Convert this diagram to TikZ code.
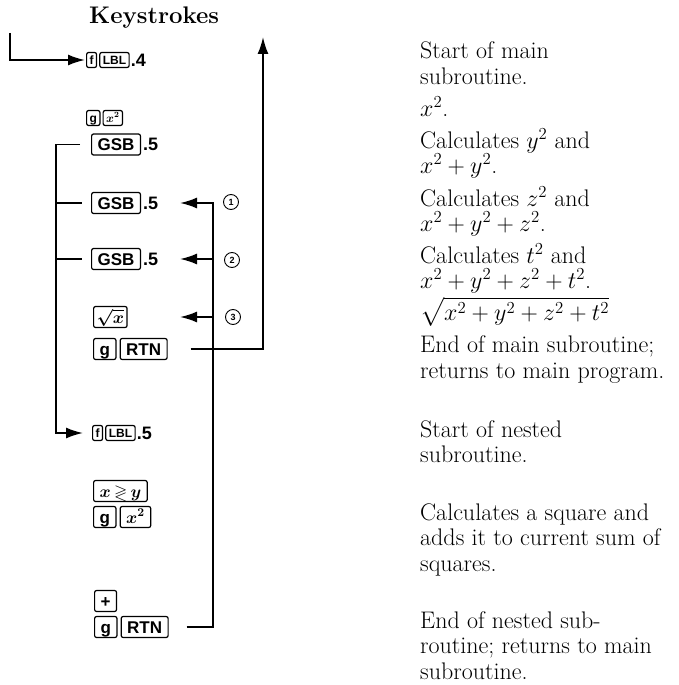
\RequirePackage{fix-cm}
\documentclass[tikz,border=0pt]{standalone}
\usepackage{amsmath,amssymb}
\usepackage{fontspec}
\newfontfamily\keyfont{Liberation Sans}
\usetikzlibrary{arrows.meta, positioning}

\tikzset{
  key/.style={draw, line width=1.2pt, rounded corners=2pt, inner xsep=6pt, inner ysep=0pt,
    minimum height=21pt, text height=12.2pt, text depth=0pt, font=\fontsize{17}{17}\keyfont\bfseries\boldmath, anchor=west},
  smallkey/.style={key, inner xsep=3pt, minimum height=15pt, text height=8.6pt, font=\fontsize{12}{12}\keyfont\bfseries\boldmath},
  keyarg/.style={inner sep=0pt, font=\fontsize{18}{18}\keyfont\bfseries, anchor=west},
  line/.style={line width=1.8pt},
  flow/.style={line, -{Latex[length=17pt,width=11pt]}},
  note/.style={anchor=base west, align=left, inner sep=0pt, font=\fontsize{24}{25.5}\selectfont},
  callno/.style={draw, circle, line width=0.9pt, inner sep=0pt, minimum size=15pt, font=\fontsize{9}{9}\keyfont\bfseries},
}

\begin{document}
\begin{tikzpicture}[x=1pt, y=-1pt]
\useasboundingbox (0,0) rectangle (679,685);

\node[anchor=base west, inner sep=0pt, font=\fontsize{24}{24}\selectfont\bfseries] (title) at (89,24) {Keystrokes};

% main subroutine
\node[smallkey] (fA) at (86,60) {f};
\node[smallkey, right=2pt of fA] (lblA) {LBL};
\node[keyarg, right=1pt of lblA] (numA) {.4};

\node[smallkey] (gB) at (86,118) {g};
\node[smallkey, right=2pt of gB] (sqB) {$x^2$};

\node[key] (gsbC) at (91,144.5) {GSB};
\node[keyarg, right=2pt of gsbC] (numC) {.5};
\node[key] (gsbD) at (91,203) {GSB};
\node[keyarg, right=2pt of gsbD] (numD) {.5};
\node[key] (gsbE) at (91,259) {GSB};
\node[keyarg, right=2pt of gsbE] (numE) {.5};

\node[key, inner xsep=3pt] (sqrtF) at (93,317) {$\sqrt{x}$};
\node[key] (gG) at (93,349) {g};
\node[key, right=3pt of gG] (rtnG) {RTN};

% nested subroutine
\node[smallkey] (fH) at (92,433) {f};
\node[smallkey, right=2pt of fH] (lblH) {LBL};
\node[keyarg, right=1pt of lblH] (numH) {.5};

\node[key] (swapI) at (93,491) {$x\,{\gtrless}\,y$};
\node[key] (gJ) at (93,517) {g};
\node[key, right=3pt of gJ] (sqJ) {$x^2$};

\node[key] (plusK) at (94,601) {+};
\node[key] (gL) at (94,627) {g};
\node[key, right=3pt of gL] (rtnL) {RTN};

% notes (anchored at the baseline of their last line)
\node[note] (n1) at (420,84.5) {Start of main\\subroutine.};
\node[note] (n2) at (420,116) {$x^2$.};
\node[note] (n3) at (420,173.5) {Calculates $y^2$ and\\$x^2+y^2$.};
\node[note] (n4) at (420,231.5) {Calculates $z^2$ and\\$x^2+y^2+z^2$.};
\node[note] (n5) at (420,288.5) {Calculates $t^2$ and\\$x^2+y^2+z^2+t^2$.};
\node[note] (n6) at (420,320) {$\sqrt{x^2+y^2+z^2+t^2}$};
\node[note] (n7) at (420,378) {End of main subroutine;\\returns to main program.};
\node[note] (n8) at (420,462.5) {Start of nested\\subroutine.};
\node[note] (n9) at (420,571) {Calculates a square and\\adds it to current sum of\\squares.};
\node[note] (n10) at (420,679) {End of nested sub-\\routine; returns to main\\subroutine.};

% entry and return of main subroutine
\coordinate (mainin) at (10,33);
\coordinate (mainout) at (263,37);
\draw[flow] (mainin) |- ([xshift=-1pt]fA.west);
\draw[flow] ([xshift=23pt]rtnG.east) -| (mainout);

% calls
\coordinate (callbar) at (56,0);
\draw[flow, shorten >=9pt] ([xshift=-11pt]gsbC.west) -- (gsbC.west -| callbar) |- (fH.west);
\draw[line] (gsbD.west -| callbar) -- ([xshift=-9pt]gsbD.west);
\draw[line] (gsbE.west -| callbar) -- ([xshift=-9pt]gsbE.west);

% returns
\coordinate (nestbar) at (213,0);
\coordinate (tipcol) at (180,0);
\draw[flow] ([xshift=18pt]rtnL.east) -| (numD.east -| nestbar) -- (numD.east -| tipcol);
\draw[flow] (numE.east -| nestbar) -- (numE.east -| tipcol);
\draw[flow] (sqrtF.east -| nestbar) -- (sqrtF.east -| tipcol);

\node[callno] (one) at (231,202) {1};
\node[callno] (two) at (232,260) {2};
\node[callno] (three) at (233,317) {3};
\end{tikzpicture}
\end{document}
